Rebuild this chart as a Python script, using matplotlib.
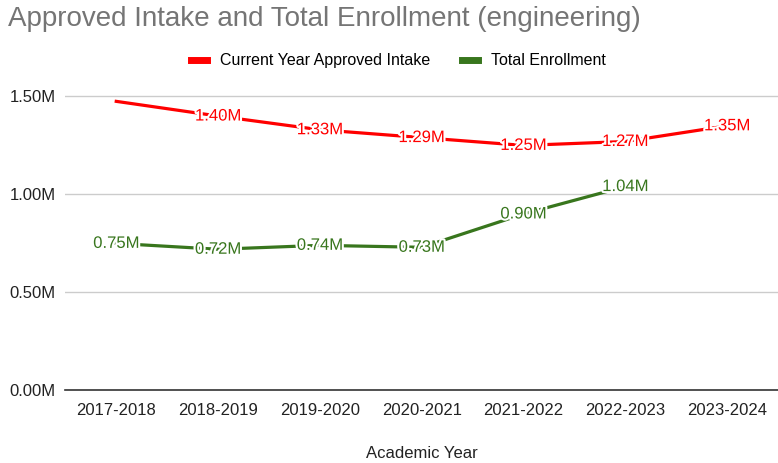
import numpy as np
import matplotlib.pyplot as plt
import matplotlib.patheffects as pe
from matplotlib.ticker import FuncFormatter

plt.rcParams['font.family'] = ['Liberation Sans', 'DejaVu Sans']

years = ['2017-2018', '2018-2019', '2019-2020', '2020-2021',
         '2021-2022', '2022-2023', '2023-2024']
approved_intake = [1.475, 1.40, 1.33, 1.29, 1.25, 1.27, 1.35]
total_enrollment = [0.75, 0.72, 0.74, 0.73, 0.90, 1.04, np.nan]
# first intake point had no label in the original
intake_labels = [None, '1.40M', '1.33M', '1.29M', '1.25M', '1.27M', '1.35M']
enroll_labels = ['0.75M', '0.72M', '0.74M', '0.73M', '0.90M', '1.04M', None]

red = '#ff0000'
green = '#38761d'

fig = plt.figure(figsize=(7.78, 4.63), dpi=100)
ax = fig.add_axes([0.084, 0.157, 0.916, 0.677])

x = np.arange(len(years))
ax.plot(x, approved_intake, color=red, lw=2.3, label='Current Year Approved Intake', zorder=3)
ax.plot(x, total_enrollment, color=green, lw=2.3, label='Total Enrollment', zorder=3)

halo = [pe.withStroke(linewidth=3, foreground='white')]
for xi, v, lab in zip(x, approved_intake, intake_labels):
    if lab:
        ax.text(xi, v, lab, color=red, fontsize=12, ha='center', va='center',
                path_effects=halo, zorder=4)
for xi, v, lab in zip(x, total_enrollment, enroll_labels):
    if lab:
        ax.text(xi, v, lab, color=green, fontsize=12, ha='center', va='center',
                path_effects=halo, zorder=4)

ax.set_xlim(-0.5, len(years) - 0.5)
ax.set_ylim(0, 1.6)
ax.set_yticks([0, 0.5, 1.0, 1.5])
ax.yaxis.set_major_formatter(FuncFormatter(lambda v, p: f'{v:.2f}M'))
ax.set_xticks(x)
ax.set_xticklabels(years)
ax.tick_params(axis='both', length=0, labelsize=12, colors='#222222')
ax.tick_params(axis='x', pad=9)
ax.tick_params(axis='y', pad=7)
ax.grid(axis='y', color='#cccccc', lw=1)
ax.set_axisbelow(True)
for s in ['top', 'right', 'left']:
    ax.spines[s].set_visible(False)
ax.spines['bottom'].set_color('#333333')
ax.spines['bottom'].set_linewidth(1.2)

ax.set_xlabel('Academic Year', fontsize=12, color='#222222', labelpad=20)

fig.text(0.01, 0.958, 'Approved Intake and Total Enrollment (engineering)',
         fontsize=20, color='#757575', ha='left', va='center')

fig.legend(loc='center', bbox_to_anchor=(0.512, 0.869), ncol=2, frameon=False,
           fontsize=11.5, handlelength=1.0, handleheight=0.5, columnspacing=2.0,
           handletextpad=0.8)
for h in fig.legends[0].get_lines():
    h.set_linewidth(5)

fig.savefig('out.png', dpi=100)
